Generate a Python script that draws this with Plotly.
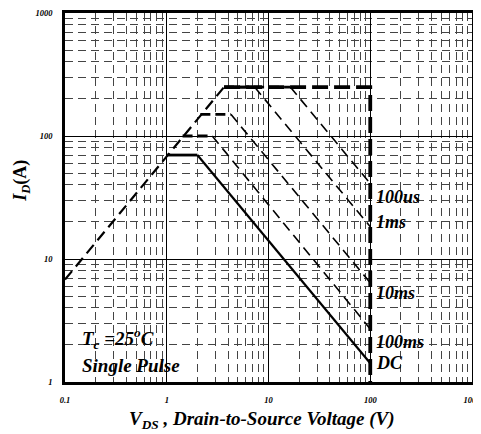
import math
import plotly.graph_objects as go

# ---- tick labels ----
x_tick_vals = [0.1, 1, 10, 100, 1000]
x_tick_text = ["0.1", "1", "10", "100", "1000"]
y_tick_vals = [1, 10, 100, 1000]
y_tick_text = ["1", "10", "100", "1000"]

# ---- boundary lines ----
vds_rds = [0.1, 3.66]          # Rds(on) limit
id_rds = [6.8, 250]
vds_limit = [3.66, 100, 100]   # current / voltage limit
id_limit = [250, 250, 1]

# ---- pulse curves (horizontal part then slope) ----
vds_100us = [3.66, 16.4, 100]
id_100us = [250, 250, 41]
vds_1ms = [3.66, 7.3, 100]
id_1ms = [250, 250, 18.3]
vds_10ms = [2.14, 4.27, 100]
id_10ms = [150, 150, 6.4]
vds_100ms = [1.43, 2.8, 100]
id_100ms = [100, 100, 2.7]
vds_dc = [1.0, 2.0, 100]
id_dc = [70, 70, 1.42]

labels = ["100us", "1ms", "10ms", "100ms", "DC"]
label_x = 100
label_y = [32, 20, 5.3, 2.1, 1.43]

FONT = dict(family="Liberation Serif", color="black", weight="bold", style="italic")

fig = go.Figure()

dashed_curves = [(vds_100us, id_100us), (vds_1ms, id_1ms), (vds_10ms, id_10ms), (vds_100ms, id_100ms)]
for xs, ys in dashed_curves:
    fig.add_trace(go.Scatter(x=xs[:2], y=ys[:2], mode="lines",
                             line=dict(color="black", width=2.8, dash="10px,5px"),
                             showlegend=False, hoverinfo="skip"))
    fig.add_trace(go.Scatter(x=xs[1:], y=ys[1:], mode="lines",
                             line=dict(color="black", width=1.6, dash="10px,6px"),
                             showlegend=False, hoverinfo="skip"))

fig.add_trace(go.Scatter(x=vds_dc[:2], y=id_dc[:2], mode="lines",
                         line=dict(color="black", width=2.8), showlegend=False, hoverinfo="skip"))
fig.add_trace(go.Scatter(x=vds_dc[1:], y=id_dc[1:], mode="lines",
                         line=dict(color="black", width=2.2), showlegend=False, hoverinfo="skip"))

fig.add_trace(go.Scatter(x=vds_rds, y=id_rds, mode="lines",
                         line=dict(color="black", width=2.2, dash="11px,6px"),
                         showlegend=False, hoverinfo="skip"))
fig.add_trace(go.Scatter(x=vds_limit, y=id_limit, mode="lines",
                         line=dict(color="black", width=3.8, dash="16px,6px"),
                         showlegend=False, hoverinfo="skip"))

annotations = []
for lab, yv in zip(labels, label_y):
    annotations.append(dict(x=math.log10(label_x), y=math.log10(yv), xref="x", yref="y", text=lab,
                            showarrow=False, xanchor="left", yanchor="middle", xshift=4,
                            font=dict(size=18, **FONT)))
annotations.append(dict(x=0.037, y=0.119, xref="paper", yref="paper",
                        text="T<sub>c</sub> =25<sup>o</sup>C", showarrow=False,
                        xanchor="left", yanchor="middle", font=dict(size=19, **FONT)))
annotations.append(dict(x=0.037, y=0.046, xref="paper", yref="paper",
                        text="Single Pulse", showarrow=False,
                        xanchor="left", yanchor="middle", font=dict(size=19, **FONT)))
annotations.append(dict(x=0.483, y=-0.103, xref="paper", yref="paper",
                        text="V<sub>DS</sub> , Drain-to-Source Voltage (V)", showarrow=False,
                        xanchor="center", yanchor="middle", font=dict(size=19, **FONT)))
annotations.append(dict(x=-0.106, y=0.545, xref="paper", yref="paper",
                        text="<i>I<sub>D</sub></i>(A)", showarrow=False, textangle=-90,
                        xanchor="center", yanchor="middle",
                        font=dict(size=18, family="Liberation Serif", color="black", weight="bold")))

axis_common = dict(
    type="log", showgrid=True, gridcolor="black", gridwidth=1,
    minor=dict(dtick="D1", showgrid=True, griddash="8px,5px", gridcolor="#444", gridwidth=1, ticks=""),
    showline=True, mirror=True, linecolor="black", linewidth=2.5,
    ticks="", zeroline=False, tickfont=dict(size=8.5, **FONT), tickmode="array",
    automargin=False, ticklabelstandoff=8, ticklabeloverflow="allow",
)

# page body adds an 8px offset, so figure is sized to fill the remaining window
fig.update_layout(
    width=473, height=426,
    margin=dict(l=57, r=9, t=5, b=52),
    paper_bgcolor="white", plot_bgcolor="white",
    xaxis=dict(range=[-1, 3], tickvals=x_tick_vals, ticktext=x_tick_text, **axis_common),
    yaxis=dict(range=[0, 3], tickvals=y_tick_vals, ticktext=y_tick_text, **axis_common),
    annotations=annotations,
)

fig.write_html("out.html")
